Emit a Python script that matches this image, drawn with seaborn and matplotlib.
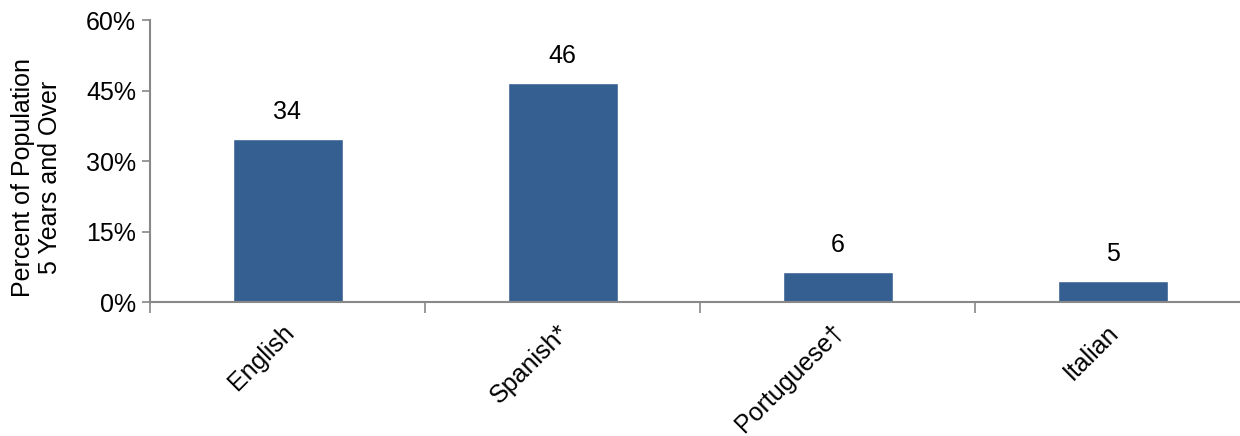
import matplotlib.pyplot as plt
import seaborn as sns
from matplotlib.ticker import FuncFormatter
from matplotlib.transforms import ScaledTranslation

# data
languages = ["English", "Spanish*", "Portuguese\u2020", "Italian"]
percents = [34.6, 46.5, 6.4, 4.5]
labels = ["34", "46", "6", "5"]

bar_color = "#365F91"
axis_grey = "#888888"

sns.set_theme(style="white")
plt.rcParams['font.family'] = ['Liberation Sans', 'DejaVu Sans']
plt.rcParams['text.color'] = 'black'
plt.rcParams['xtick.labelcolor'] = 'black'
plt.rcParams['ytick.labelcolor'] = 'black'
plt.rcParams['axes.labelcolor'] = 'black'

fig = plt.figure(figsize=(12.4, 4.36), dpi=100)
ax = fig.add_axes([150 / 1240, 1 - 302 / 436, 1100 / 1240, 282 / 436])

sns.barplot(x=languages, y=percents, color=bar_color, width=0.4,
            saturation=1, ax=ax)

for i, (v, lab) in enumerate(zip(percents, labels)):
    ax.text(i, v + 3.2, lab, ha="center", va="bottom", fontsize=18, color="black")

ax.set_ylim(0, 60)
ax.set_xlim(-0.5, 3.5)
ax.set_yticks([0, 15, 30, 45, 60])
ax.yaxis.set_major_formatter(FuncFormatter(lambda y, _: f"{int(y)}%"))
ax.set_xticks([-0.5, 0.5, 1.5, 2.5, 3.5], minor=True)
ax.set_xticks([0, 1, 2, 3])
ax.set_xticklabels(languages, rotation=45, ha="right", rotation_mode="anchor")
ax.tick_params(axis="x", which="major", length=0, pad=13, labelsize=18)
ax.tick_params(axis="x", which="minor", length=8, width=1.2, color=axis_grey,
               direction="out", bottom=True)
ax.tick_params(axis="y", length=6, width=1.2, color=axis_grey, direction="out",
               left=True, labelsize=18, pad=4)
shift = ScaledTranslation(-6 / 100, 0, fig.dpi_scale_trans)
for lbl in ax.get_xticklabels():
    lbl.set_transform(lbl.get_transform() + shift)

for side in ["top", "right"]:
    ax.spines[side].set_visible(False)
for side in ["left", "bottom"]:
    ax.spines[side].set_color(axis_grey)
    ax.spines[side].set_linewidth(1.5)

ax.set_ylabel("Percent of Population\n5 Years and Over", fontsize=18,
              linespacing=1.15)
ax.yaxis.set_label_coords(-0.08, 0.443)

fig.savefig("out.png", dpi=100)
